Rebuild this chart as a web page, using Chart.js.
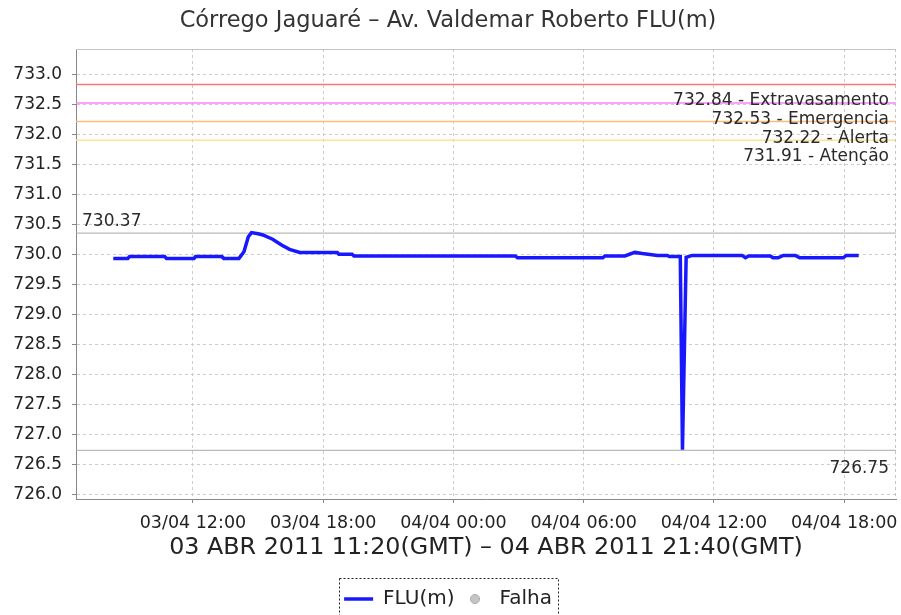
<!DOCTYPE html>
<html>
<head>
<meta charset="utf-8">
<script src="https://cdn.jsdelivr.net/npm/chart.js@4.4.0/dist/chart.umd.min.js"></script>
<style>
  html, body { margin: 0; padding: 0; background: #ffffff; }
  #wrap { width: 901px; height: 615px; position: relative; }
</style>
</head>
<body>
<div id="wrap"><canvas id="fluChart"></canvas></div>
<script>
// eixo X em horas desde 03/04 00:00 (hora local)
var xTicks = [12, 18, 24, 30, 36, 42]
var xTickLabels = ["03/04 12:00", "03/04 18:00", "04/04 00:00", "04/04 06:00", "04/04 12:00", "04/04 18:00"]
var yTicks = [726.0, 726.5, 727.0, 727.5, 728.0, 728.5, 729.0, 729.5, 730.0, 730.5, 731.0, 731.5, 732.0, 732.5, 733.0]

// leituras do nível (FLU, m)
var fluHoras = [8.33, 9.0, 9.08, 10.7, 10.78, 12.05, 12.12, 13.33, 13.42, 14.12, 14.35, 14.55, 14.7, 15.0, 15.22, 15.67, 16.1, 16.45,
  16.92, 18.65, 18.72, 19.33, 19.42, 26.85, 26.95, 30.88, 30.98, 31.9, 32.35, 32.7, 33.4, 33.85, 33.95, 34.45, 34.55, 34.72,
  35.0, 37.3, 37.45, 37.6, 38.6, 38.72, 38.95, 39.2, 39.75, 39.95, 41.95, 42.1, 42.67]
var fluValores = [729.94, 729.94, 729.97, 729.97, 729.94, 729.94, 729.97, 729.97, 729.94, 729.94, 730.05, 730.3, 730.37, 730.35, 730.33, 730.26, 730.16, 730.09,
  730.04, 730.04, 730.01, 730.01, 729.98, 729.98, 729.95, 729.95, 729.98, 729.98, 730.04, 730.02, 729.99, 729.99, 729.97, 729.97, 726.75, 729.96,
  729.99, 729.99, 729.95, 729.98, 729.98, 729.95, 729.95, 729.99, 729.99, 729.95, 729.95, 729.99, 729.99]

// cotas de referência
var cotasValores = [732.84, 732.53, 732.22, 731.91]
var cotasNomes = ["Extravasamento", "Emergencia", "Alerta", "Atenção"]
var cotasCores = ["#ff7373", "#ff80ff", "#ffbb77", "#ffe38f"]
var valorMaximo = 730.37
var valorMinimo = 726.75

var horaInicio = 8.33
var horaFim = 42.67
var margem = (horaFim - horaInicio) * 0.05

var pontos = fluHoras.map(function (h, i) { return { x: h, y: fluValores[i] } })

function fmtCota(v) { return v.toFixed(2) }

// bolinha cinza da legenda "Falha"
var bolinhaFalha = document.createElement("canvas")
bolinhaFalha.width = 12
bolinhaFalha.height = 12
;(function () {
  var c = bolinhaFalha.getContext("2d")
  c.fillStyle = "#c4c4c4"
  c.strokeStyle = "#b0b0b0"
  c.beginPath()
  c.arc(6, 6, 4.6, 0, Math.PI * 2)
  c.fill()
  c.stroke()
})()

var pluginCotas = {
  id: "cotas",
  beforeDatasetsDraw: function (chart) {
    var ctx = chart.ctx
    var area = chart.chartArea
    var y = chart.scales.y
    ctx.save()
    ctx.lineWidth = 1.5
    for (var i = 0; i < cotasValores.length; i++) {
      var py = y.getPixelForValue(cotasValores[i])
      ctx.strokeStyle = cotasCores[i]
      ctx.beginPath()
      ctx.moveTo(area.left, py)
      ctx.lineTo(area.right, py)
      ctx.stroke()
    }
    ctx.lineWidth = 1
    ctx.strokeStyle = "#a8a8a8"
    var pMax = y.getPixelForValue(valorMaximo)
    var pMin = y.getPixelForValue(valorMinimo)
    ctx.beginPath()
    ctx.moveTo(area.left, pMax + 0.5)
    ctx.lineTo(area.right, pMax + 0.5)
    ctx.moveTo(area.left, pMin + 0.5)
    ctx.lineTo(area.right, pMin + 0.5)
    ctx.stroke()

    ctx.font = "17px 'DejaVu Sans'"
    ctx.fillStyle = "#2a2a2a"
    ctx.textBaseline = "top"
    ctx.textAlign = "right"
    for (var j = 0; j < cotasValores.length; j++) {
      var ty = y.getPixelForValue(cotasValores[j])
      ctx.fillText(fmtCota(cotasValores[j]) + " - " + cotasNomes[j], area.right - 7, ty + 8)
    }
    ctx.fillText(fmtCota(valorMinimo), area.right - 7, pMin + 10)
    ctx.textAlign = "left"
    ctx.textBaseline = "bottom"
    ctx.fillText(fmtCota(valorMaximo), area.left + 6, pMax - 3)

    // contorno do gráfico
    ctx.strokeStyle = "#c4c4c4"
    ctx.beginPath()
    ctx.moveTo(area.left, area.top + 0.5)
    ctx.lineTo(area.right, area.top + 0.5)
    ctx.stroke()
    ctx.setLineDash([3, 3])
    ctx.beginPath()
    ctx.moveTo(area.right - 0.5, area.top)
    ctx.lineTo(area.right - 0.5, area.bottom)
    ctx.stroke()
    ctx.restore()
  },
  afterDraw: function (chart) {
    // caixa tracejada da legenda
    var boxes = chart.legend.legendHitBoxes
    if (!boxes || !boxes.length) return
    var left = boxes[0].left - 5
    var right = boxes[boxes.length - 1].left + boxes[boxes.length - 1].width + 6
    var top = boxes[0].top - 11
    var bottom = boxes[0].top + boxes[0].height + 9
    var ctx = chart.ctx
    ctx.save()
    ctx.strokeStyle = "#222222"
    ctx.lineWidth = 1
    ctx.setLineDash([2, 2])
    ctx.strokeRect(Math.round(left) + 0.5, Math.round(top) + 0.5, Math.round(right - left), Math.round(bottom - top))
    ctx.restore()
  }
}

Chart.defaults.font.family = "'DejaVu Sans', sans-serif"
Chart.defaults.color = "#333333"

new Chart(document.getElementById("fluChart"), {
  type: "line",
  data: {
    datasets: [
      {
        label: "FLU(m)",
        data: pontos,
        borderColor: "#1818ff",
        borderWidth: 3.5,
        pointRadius: 0,
        pointStyle: "line",
        tension: 0,
        fill: false,
      },
      {
        label: "pontos",
        data: pontos,
        borderColor: "rgba(255,255,255,0.9)",
        borderWidth: 1.2,
        borderDash: [2, 2],
        pointRadius: 0,
        tension: 0,
        fill: false,
      },
      {
        label: "Falha",
        data: [],
        pointStyle: bolinhaFalha,
        backgroundColor: "#c4c4c4",
        borderColor: "#b0b0b0",
        borderWidth: 1,
      },
    ],
  },
  options: {
    responsive: true,
    maintainAspectRatio: false,
    animation: false,
    layout: { padding: { left: 0, right: 5, top: 0, bottom: -4 } },
    plugins: {
      title: {
        display: true,
        text: "Córrego Jaguaré – Av. Valdemar Roberto FLU(m)",
        color: "#333333",
        font: { size: 22.5, weight: "normal" },
        padding: { top: 8, bottom: 14 },
      },
      legend: {
        display: true,
        position: "bottom",
        labels: {
          usePointStyle: true,
          pointStyleWidth: 29,
          boxHeight: 7,
          padding: 6,
          color: "#222222",
          font: { size: 20 },
          filter: function (item) { return item.text !== "pontos" },
        },
      },
      tooltip: { enabled: false },
    },
    scales: {
      x: {
        type: "linear",
        min: horaInicio - margem,
        max: horaFim + margem,
        afterBuildTicks: function (axis) {
          axis.ticks = xTicks.map(function (v) { return { value: v } })
        },
        afterFit: function (axis) {
          axis.height = 84
          axis.paddingLeft = 0
          axis.paddingRight = 0
        },
        ticks: {
          padding: 10,
          maxRotation: 0,
          autoSkip: false,
          color: "#222222",
          font: { size: 17.5 },
          callback: function (value) { return xTickLabels[xTicks.indexOf(value)] },
        },
        grid: {
          color: "#cccccc",
          tickColor: "#888888",
          tickLength: 4,
          tickBorderDash: [],
        },
        border: { display: true, color: "#888888", dash: [3, 3] },
        title: {
          display: true,
          text: "03 ABR 2011 11:20(GMT) – 04 ABR 2011 21:40(GMT)",
          color: "#222222",
          font: { size: 23.8 },
          padding: { top: 0, bottom: 21 },
        },
      },
      y: {
        min: 725.93,
        max: 733.43,
        afterBuildTicks: function (axis) {
          axis.ticks = yTicks.map(function (v) { return { value: v } })
        },
        afterFit: function (axis) { axis.width = 76 },
        ticks: {
          padding: 10,
          color: "#222222",
          font: { size: 17 },
          callback: function (value) { return value.toFixed(1) },
        },
        grid: {
          color: "#cccccc",
          tickColor: "#888888",
          tickLength: 4,
          tickBorderDash: [],
        },
        border: { display: true, color: "#888888", dash: [3, 3] },
      },
    },
  },
  plugins: [pluginCotas],
})
</script>
</body>
</html>
